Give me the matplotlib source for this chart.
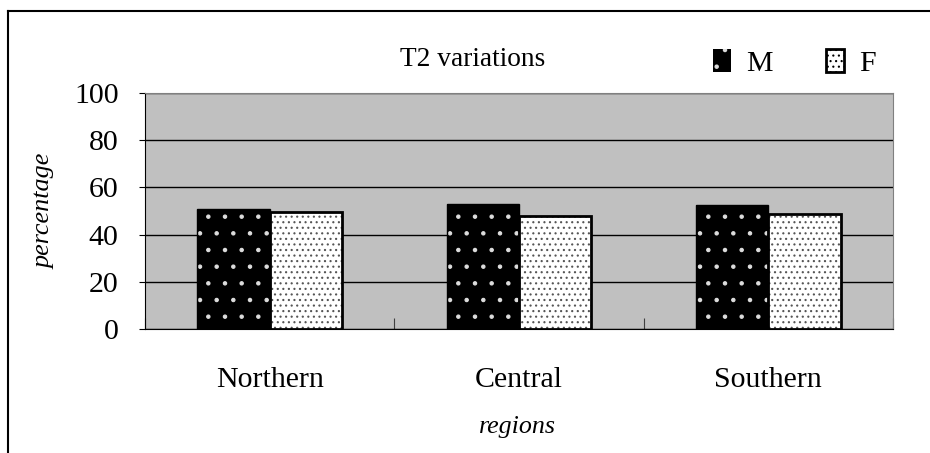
import numpy as np
import matplotlib
matplotlib.use('Agg')
import matplotlib.pyplot as plt
from matplotlib.patches import Patch
from matplotlib.lines import Line2D

# data
regions = ['Northern', 'Central', 'Southern']
male = [51.0, 52.8, 52.4]
female = [49.5, 47.7, 48.8]
yticks = [0, 20, 40, 60, 80, 100]

plt.rcParams['font.family'] = ['Liberation Serif', 'DejaVu Serif']
plt.rcParams['hatch.linewidth'] = 0.8

fig = plt.figure(figsize=(9.3, 4.53), dpi=100)
ax = fig.add_axes([145 / 930, 1 - 329 / 453, 748 / 930, 236 / 453])
ax.set_facecolor('#c0c0c0')

x = np.arange(len(regions))
w = 0.29

# M bars: black with sparse white dots, then the outline
ax.bar(x - w / 2, male, w, color='black', hatch='.', edgecolor='#dddddd', linewidth=0, zorder=3)
ax.bar(x - w / 2, male, w, fill=False, edgecolor='black', linewidth=1, zorder=4)
# F bars: white with dense grey dots
ax.bar(x + w / 2, female, w, color='white', hatch='...', edgecolor='#555555', linewidth=0, zorder=3)
ax.bar(x + w / 2, female, w, fill=False, edgecolor='black', linewidth=2, zorder=4)

ax.set_xlim(-0.5, len(regions) - 0.5)
ax.set_ylim(0, 100)
ax.set_yticks(yticks)
ax.set_yticklabels([str(v) for v in yticks], fontsize=21.5)
ax.yaxis.grid(True, color='black', linewidth=1)
ax.set_axisbelow(True)
ax.tick_params(axis='y', direction='out', length=4, pad=15, color='black')

# category labels between boundary ticks
ax.set_xticks(np.arange(len(regions) + 1) - 0.5)
ax.set_xticklabels([])
ax.tick_params(axis='x', direction='in', length=8, color='#404040')
for i, r in enumerate(regions):
    ax.text(i, -21.5, r, ha='center', va='center', fontsize=21.5, clip_on=False)

for s in ['top', 'right']:
    ax.spines[s].set_color('#808080')
for s in ['left', 'bottom']:
    ax.spines[s].set_color('black')

fig.text(473 / 930, 1 - 59 / 453, 'T2 variations', ha='center', va='center', fontsize=19.7)
fig.text(45 / 930, 1 - 211 / 453, 'percentage', ha='center', va='center', rotation=90,
         fontsize=18.8, style='italic')
fig.text(517 / 930, 1 - 427 / 453, 'regions', ha='center', va='center', fontsize=18.7, style='italic')

handles = [Patch(facecolor='black', edgecolor='#dddddd', hatch='.', linewidth=0),
           Patch(facecolor='white', edgecolor='black', hatch='...', linewidth=2)]
fig.legend(handles, ['M', 'F'], loc='center left', bbox_to_anchor=(713 / 930, 1 - 63 / 453),
           ncol=2, frameon=False, fontsize=21.5, handlelength=0.6, handleheight=0.8,
           handletextpad=0.5, columnspacing=1.8, borderpad=0, borderaxespad=0)

# outer frame of the chart area
fig.add_artist(Line2D([8 / 930, 8 / 930], [0, 1 - 11 / 453], color='black', linewidth=1.5))
fig.add_artist(Line2D([8 / 930, 1], [1 - 11 / 453, 1 - 11 / 453], color='black', linewidth=1.5))

fig.savefig('out.png', dpi=100)
